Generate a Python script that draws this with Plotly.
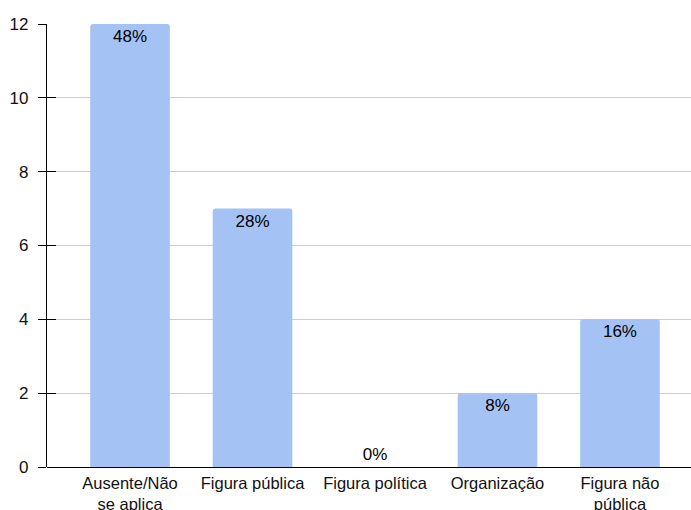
import plotly.graph_objects as go

categories = ["Ausente/Não<br>se aplica", "Figura pública", "Figura política", "Organização", "Figura não<br>pública"]
values = [12, 7, 0, 2, 4]
pct_labels = ["48%", "28%", "0%", "8%", "16%"]
y_ticks = [0, 2, 4, 6, 8, 10, 12]

positions = ["inside" if v > 0 else "outside" for v in values]
FONT = "Liberation Sans, Arial"

fig = go.Figure()
fig.add_trace(go.Bar(
    x=list(range(len(categories))),
    y=values,
    text=pct_labels,
    textposition=positions,
    insidetextanchor="end",
    textangle=0,
    cliponaxis=False,
    marker=dict(color="#a4c2f4", cornerradius=3, line=dict(width=0)),
    textfont=dict(family=FONT, size=17, color="#000"),
    insidetextfont=dict(family=FONT, size=17, color="#000"),
    outsidetextfont=dict(family=FONT, size=17, color="#000"),
    width=0.65,
    hoverinfo="skip",
))
# overlay axis for the inner half of the crossing tick marks
fig.add_trace(go.Scatter(x=[0], y=[0], yaxis="y2", mode="markers",
                         marker=dict(opacity=0), hoverinfo="skip", showlegend=False))

fig.update_layout(
    width=691, height=510,
    margin=dict(l=47, r=0, t=24, b=43, autoexpand=False),
    paper_bgcolor="white", plot_bgcolor="white",
    showlegend=False,
    font=dict(family=FONT, size=17, color="#222"),
    xaxis=dict(
        range=[-0.678, 4.58],
        tickmode="array",
        tickvals=list(range(len(categories))),
        ticktext=categories,
        showgrid=False, zeroline=False,
        showline=False, ticks="",
        tickfont=dict(size=16.5, color="#111"),
        ticklabelstandoff=4,
        automargin=False,
        fixedrange=True,
    ),
    yaxis=dict(
        range=[0, 12],
        tickmode="array", tickvals=y_ticks,
        showgrid=True, gridcolor="#cccccc", gridwidth=1,
        zeroline=True, zerolinecolor="#000", zerolinewidth=1.3,
        showline=True, linecolor="#000", linewidth=1.3,
        ticks="outside", ticklen=8, tickwidth=1.3, tickcolor="#000",
        tickfont=dict(size=17, color="#111"),
        ticklabelstandoff=6,
        automargin=False,
    ),
    yaxis2=dict(
        range=[0, 12], overlaying="y", side="left",
        tickmode="array", tickvals=y_ticks,
        showgrid=False, zeroline=False, showline=False,
        ticks="inside", ticklen=9, tickwidth=1.3, tickcolor="#000",
        showticklabels=False,
    ),
)

fig.write_html("out.html", config={"displayModeBar": False},
               post_script="document.body.style.margin='0';document.body.style.overflow='hidden';")
